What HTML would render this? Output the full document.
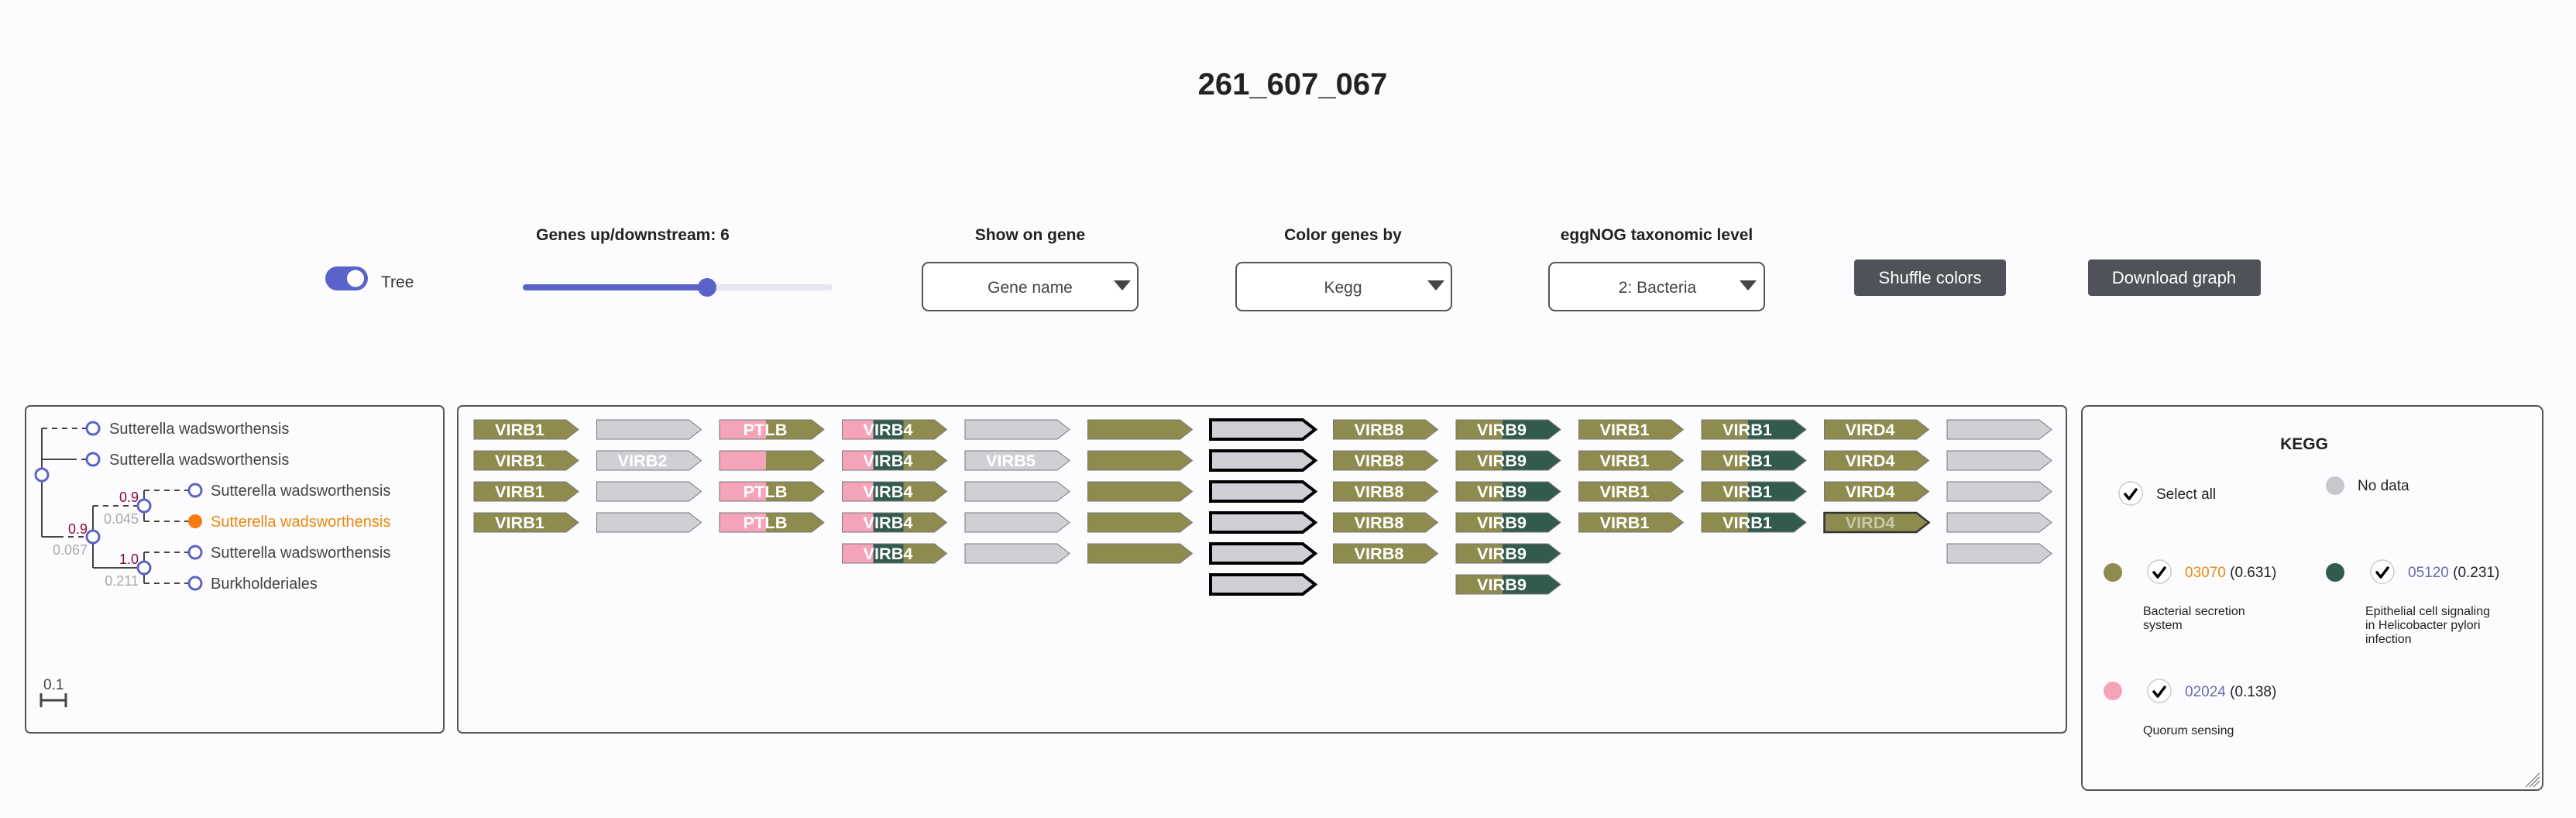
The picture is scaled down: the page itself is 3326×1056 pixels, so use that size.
<!DOCTYPE html>
<html><head><meta charset="utf-8"><style>
html,body{margin:0;padding:0;background:#fcfcff;}
svg{display:block;font-family:"Liberation Sans",sans-serif;}
</style></head><body>
<svg width="3326" height="1056" viewBox="0 0 3326 1056" xmlns="http://www.w3.org/2000/svg">
<defs>
<path id="g" d="M0 0 h119 l16 12.5 l-16 12.5 h-119 z"/>
</defs>
<rect width="3326" height="1056" fill="#fcfcff"/>
<text x="1669" y="122" font-size="40" font-weight="bold" text-anchor="middle" fill="#222">261_607_067</text>

<!-- controls -->
<rect x="420" y="344" width="55" height="31" rx="15.5" fill="#5b63c8"/>
<circle cx="459" cy="359.5" r="11" fill="#fff"/>
<text x="492" y="371" font-size="21" fill="#333">Tree</text>

<text x="817" y="310" font-size="21" font-weight="bold" text-anchor="middle" fill="#222">Genes up/downstream: 6</text>
<rect x="675" y="367" width="400" height="8" rx="4" fill="#e6e6ee"/>
<rect x="675" y="367" width="238" height="8" rx="4" fill="#5b63c8"/>
<circle cx="913" cy="371" r="12" fill="#5b63c8"/>

<text x="1330" y="310" font-size="21" font-weight="bold" text-anchor="middle" fill="#222">Show on gene</text>
<rect x="1191" y="339" width="278" height="62" rx="8" fill="#fff" stroke="#555" stroke-width="2"/>
<text x="1330" y="378" font-size="21" text-anchor="middle" fill="#444">Gene name</text>
<path d="M1438 362 h22 l-11 13 z" fill="#444"/>

<text x="1734" y="310" font-size="21" font-weight="bold" text-anchor="middle" fill="#222">Color genes by</text>
<rect x="1596" y="339" width="278" height="62" rx="8" fill="#fff" stroke="#555" stroke-width="2"/>
<text x="1734" y="378" font-size="21" text-anchor="middle" fill="#444">Kegg</text>
<path d="M1843 362 h22 l-11 13 z" fill="#444"/>

<text x="2139" y="310" font-size="21" font-weight="bold" text-anchor="middle" fill="#222">eggNOG taxonomic level</text>
<rect x="2000" y="339" width="278" height="62" rx="8" fill="#fff" stroke="#555" stroke-width="2"/>
<text x="2140" y="378" font-size="21" text-anchor="middle" fill="#444">2: Bacteria</text>
<path d="M2246 362 h22 l-11 13 z" fill="#444"/>

<rect x="2394" y="335" width="196" height="47" rx="4" fill="#50525a"/>
<text x="2492" y="366" font-size="22" text-anchor="middle" fill="#fff">Shuffle colors</text>
<rect x="2696" y="335" width="223" height="47" rx="4" fill="#50525a"/>
<text x="2807" y="366" font-size="22" text-anchor="middle" fill="#fff">Download graph</text>

<!-- tree panel -->
<rect x="33" y="524" width="540" height="422" rx="6" fill="#fcfcff" stroke="#555" stroke-width="2"/>
<g stroke="#444" stroke-width="2" fill="none">
<line x1="54" y1="553" x2="54" y2="693"/>
<line x1="54" y1="553" x2="112" y2="553" stroke-dasharray="7,6"/>
<line x1="54" y1="593" x2="92" y2="593"/>
<line x1="92" y1="593" x2="112" y2="593" stroke-dasharray="7,6"/>
<line x1="54" y1="693" x2="75" y2="693"/>
<line x1="75" y1="693" x2="112" y2="693" stroke-dasharray="7,6"/>
<line x1="120" y1="653" x2="120" y2="733"/>
<line x1="120" y1="653" x2="178" y2="653" stroke-dasharray="7,6"/>
<line x1="120" y1="733" x2="178" y2="733"/>
<line x1="186" y1="633" x2="186" y2="673"/>
<line x1="186" y1="633" x2="244" y2="633" stroke-dasharray="7,6"/>
<line x1="186" y1="673" x2="244" y2="673" stroke-dasharray="7,6"/>
<line x1="186" y1="713" x2="186" y2="753"/>
<line x1="186" y1="713" x2="244" y2="713" stroke-dasharray="7,6"/>
<line x1="186" y1="753" x2="244" y2="753" stroke-dasharray="7,6"/>
<line x1="52" y1="904" x2="86" y2="904" stroke-width="3"/>
<line x1="53" y1="895" x2="53" y2="913" stroke-width="3"/>
<line x1="85" y1="895" x2="85" y2="913" stroke-width="3"/>
</g>
<g fill="#fff" stroke="#5c63c4" stroke-width="3">
<circle cx="54" cy="613" r="8"/>
<circle cx="120" cy="553" r="8"/>
<circle cx="120" cy="593" r="8"/>
<circle cx="120" cy="693" r="8"/>
<circle cx="186" cy="653" r="8"/>
<circle cx="186" cy="733" r="8"/>
<circle cx="252" cy="633" r="8"/>
<circle cx="252" cy="713" r="8"/>
<circle cx="252" cy="753" r="8"/>
</g>
<circle cx="252" cy="673" r="9" fill="#f47b0e"/>
<g font-size="20" fill="#444">
<text x="141" y="560">Sutterella wadsworthensis</text>
<text x="141" y="600">Sutterella wadsworthensis</text>
<text x="272" y="640">Sutterella wadsworthensis</text>
<text x="272" y="680" fill="#e8890e">Sutterella wadsworthensis</text>
<text x="272" y="720">Sutterella wadsworthensis</text>
<text x="272" y="760">Burkholderiales</text>
<text x="56" y="890" font-size="19">0.1</text>
</g>
<g font-size="18" text-anchor="end">
<text x="113" y="689" fill="#8b0a3a">0.9</text>
<text x="113" y="716" fill="#aaa">0.067</text>
<text x="179" y="648" fill="#8b0a3a">0.9</text>
<text x="179" y="676" fill="#aaa">0.045</text>
<text x="179" y="728" fill="#8b0a3a">1.0</text>
<text x="179" y="756" fill="#aaa">0.211</text>
</g>

<!-- genes panel -->
<rect x="591" y="524" width="2077" height="422" rx="6" fill="#fcfcff" stroke="#555" stroke-width="2"/>
<g id="genes" stroke="none">
</g>
<script>
(function(){
var O='#8d8b4e',G='#cfcfd5',P='#f4a3b8',T='#335a4f';
var svgns='http://www.w3.org/2000/svg';
var root=document.getElementById('genes');
function colx(c){return 612+158.5*(c-1);}
function rowy(r){return 542+40*(r-1);}
function el(n,a){var e=document.createElementNS(svgns,n);for(var k in a)e.setAttribute(k,a[k]);root.appendChild(e);return e;}
function gene(r,c,type,label,opt){
 opt=opt||{};
 var x=colx(c),y=rowy(r);
 var d='M'+x+' '+y+' h119 l16 12.5 l-16 12.5 h-119 z';
 var base=O;
 if(type=='g'||type=='b')base=G;
 if(type=='teal')base=T;
 el('path',{d:d,fill:base});
 if(type=='ptlb')el('rect',{x:x,y:y,width:60,height:25,fill:P});
 if(type=='v4'){el('rect',{x:x,y:y,width:40,height:25,fill:P});el('rect',{x:x+40,y:y,width:39,height:25,fill:T});}
 if(type=='teal')el('rect',{x:x,y:y,width:60,height:25,fill:O});
 if(type=='b')el('path',{d:d,fill:'none',stroke:'#000','stroke-width':4});
 else el('path',{d:d,fill:'none',stroke:opt.hover?'#333':'#777','stroke-width':opt.hover?2.5:1});
 if(label){var t=el('text',{x:x+59,y:y+20,'font-size':21,'font-weight':'bold','text-anchor':'middle',fill:opt.hover?'#c9c9a8':'#fff',textLength:label.length==4?57:64,lengthAdjust:'spacingAndGlyphs'});t.textContent=label;}
}
for(var r=1;r<=4;r++){
 gene(r,1,'o','VIRB1');
 gene(r,2,'g',r==2?'VIRB2':'');
 gene(r,3,'ptlb',r==2?'':'PTLB');
 gene(r,4,'v4','VIRB4');
 gene(r,5,'g',r==2?'VIRB5':'');
 gene(r,6,'o','');
 gene(r,7,'b','');
 gene(r,8,'o','VIRB8');
 gene(r,9,'teal','VIRB9');
 gene(r,10,'o','VIRB1');
 gene(r,11,'teal','VIRB1');
 gene(r,12,'o','VIRD4',{hover:r==4});
 gene(r,13,'g','');
}
gene(5,4,'v4','VIRB4');gene(5,5,'g','');gene(5,6,'o','');gene(5,7,'b','');gene(5,8,'o','VIRB8');gene(5,9,'teal','VIRB9');gene(5,13,'g','');
gene(6,7,'b','');gene(6,9,'teal','VIRB9');
})();
</script>

<!-- legend panel -->
<rect x="2688" y="524" width="595" height="496" rx="8" fill="#fcfcff" stroke="#555" stroke-width="2"/>
<g stroke="#888" stroke-width="1.5"><line x1="3266" y1="1016" x2="3279" y2="1003"/><line x1="3271" y1="1016" x2="3279" y2="1008"/><line x1="3261" y1="1016" x2="3279" y2="998"/></g>
<text x="2975" y="580" font-size="21" font-weight="bold" text-anchor="middle" fill="#222">KEGG</text>
<g fill="#fff" stroke="#ccc" stroke-width="1.5">
<circle cx="2751" cy="637" r="15"/>
<circle cx="2788" cy="738" r="15"/>
<circle cx="3076" cy="738" r="15"/>
<circle cx="2788" cy="892" r="15"/>
</g>
<g fill="none" stroke="#000" stroke-width="3.5" stroke-linecap="round" stroke-linejoin="round">
<path d="M2744 638 l5 6 l9 -12"/>
<path d="M2781 739 l5 6 l9 -12"/>
<path d="M3069 739 l5 6 l9 -12"/>
<path d="M2781 893 l5 6 l9 -12"/>
</g>
<text x="2784" y="644" font-size="19" fill="#222">Select all</text>
<circle cx="3015" cy="627" r="12" fill="#c8c8cc"/>
<text x="3044" y="633" font-size="19" fill="#222">No data</text>
<circle cx="2728" cy="739" r="12" fill="#8d8b4e"/>
<text x="2821" y="745" font-size="19" fill="#222"><tspan fill="#e8890e">03070</tspan> (0.631)</text>
<text x="2767" y="794" font-size="16" fill="#222">Bacterial secretion</text>
<text x="2767" y="812" font-size="16" fill="#222">system</text>
<circle cx="3015" cy="739" r="12" fill="#335a4f"/>
<text x="3109" y="745" font-size="19" fill="#222"><tspan fill="#6a6aaa">05120</tspan> (0.231)</text>
<text x="3054" y="794" font-size="16" fill="#222">Epithelial cell signaling</text>
<text x="3054" y="812" font-size="16" fill="#222">in Helicobacter pylori</text>
<text x="3054" y="830" font-size="16" fill="#222">infection</text>
<circle cx="2728" cy="892" r="12" fill="#f4a3b8"/>
<text x="2821" y="899" font-size="19" fill="#222"><tspan fill="#6a6aaa">02024</tspan> (0.138)</text>
<text x="2767" y="948" font-size="16" fill="#222">Quorum sensing</text>
</svg>
</body></html>
